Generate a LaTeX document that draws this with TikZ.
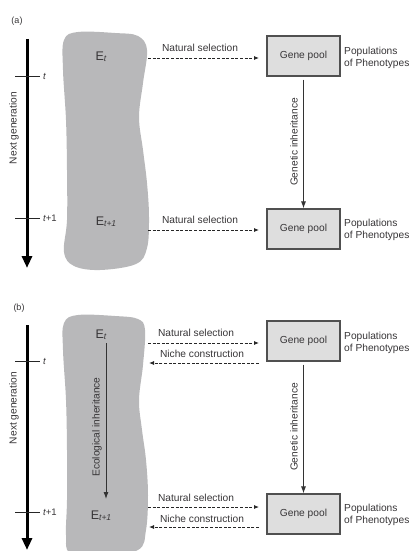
\documentclass[tikz,border=0pt]{standalone}
\usepackage{fontspec}
\setmainfont{Liberation Sans}
\usetikzlibrary{arrows.meta}
\definecolor{txt}{RGB}{55,53,55}
\definecolor{blobfill}{RGB}{184,184,186}
\definecolor{boxfill}{RGB}{222,222,222}
\definecolor{boxline}{RGB}{80,80,80}
\tikzset{
  lbl/.style={font=\fontsize{10.2}{12}\selectfont, text=txt, inner sep=0pt},
  rotlbl/.style={lbl, rotate=90},
  genebox/.style={draw=boxline, line width=1.1pt, fill=boxfill, minimum width=73pt, minimum height=40pt, inner sep=0pt, font=\fontsize{10.2}{12}\selectfont, text=txt},
  poplbl/.style={lbl, anchor=west, align=left, font=\fontsize{10.2}{11.5}\selectfont},
  envlbl/.style={font=\fontsize{12.5}{14}\selectfont, text=txt, inner sep=0pt},
  panellbl/.style={font=\fontsize{9}{11}\selectfont, text=txt, inner sep=0pt},
  ticklbl/.style={font=\fontsize{9.5}{10}\selectfont\itshape, text=txt, anchor=west, inner sep=0pt},
  dasharrow/.style={draw=black!85, dashed, dash pattern=on 3pt off 1.6pt, line width=0.8pt, -{Latex[length=5pt,width=4pt]}},
  solidarrow/.style={draw=black!80, line width=0.9pt, -{Latex[length=7pt,width=5pt]}},
  timearrow/.style={draw=black, line width=3pt, -{Triangle[length=12pt,width=10pt]}},
  tickline/.style={draw=black!85, line width=1pt},
  blob/.style={fill=blobfill, draw=none}
}
\newcommand{\Esub}[1]{E{\fontsize{8.5}{9}\selectfont\itshape\raisebox{-1.2pt}{#1}}}
\begin{document}
\begin{tikzpicture}[x=1pt,y=-1pt]
\useasboundingbox (0,0) rectangle (414,551);
% ---------- panel (a) ----------
\node[panellbl] (pa) at (17,21) {(a)};
\path[blob] plot[smooth cycle, tension=0.6] coordinates {
 (64,40) (78,32) (115,33) (138,36) (147,50) (143,83) (139,117) (143,150)
 (147,183) (149,217) (147,248) (136,264) (100,270) (74,266) (64,252)
 (67,220) (67,170) (66,120) (63,70)};
\node[envlbl] (ea1) at (101,57) {\Esub{t}};
\node[envlbl] (ea2) at (106,222) {\Esub{t+1}};
% time axis
\coordinate (ta1) at (27,39);
\coordinate (ta2) at (27,268);
\draw[timearrow] (ta1) -- (ta2);
\coordinate (tka1) at (15,76); \coordinate (tka2) at (40,76);
\draw[tickline] (tka1) -- (tka2);
\node[ticklbl] (tla1) at (43,76) {t};
\coordinate (tkb1) at (15,218); \coordinate (tkb2) at (40,218);
\draw[tickline] (tkb1) -- (tkb2);
\node[ticklbl] (tlb1) at (43,218) {t\upshape+1};
\node[rotlbl] (nga) at (14,128) {Next generation};
% gene pools
\node[genebox] (gpa1) at (303.5,56) {Gene pool};
\node[genebox] (gpa2) at (303.5,229) {Gene pool};
\node[poplbl] (ppa1) at (344,58) {Populations\\of Phenotypes};
\node[poplbl] (ppa2) at (344,230) {Populations\\of Phenotypes};
\draw[solidarrow, shorten <=3pt] (gpa1.south) -- (gpa2.north);
\node[rotlbl] (gia) at (294,142) {Genetic inheritance};
% natural selection
\node[lbl] (nsa1) at (200,48) {Natural selection};
\coordinate (nsa1s) at (148,58); \coordinate (nsa1e) at (259,58);
\draw[dasharrow] (nsa1s) -- (nsa1e);
\node[lbl] (nsa2) at (200,220) {Natural selection};
\coordinate (nsa2s) at (148,230); \coordinate (nsa2e) at (259,230);
\draw[dasharrow] (nsa2s) -- (nsa2e);
% ---------- panel (b) ----------
\node[panellbl] (pb) at (19,308) {(b)};
\path[blob] plot[smooth cycle, tension=0.6] coordinates {
 (64,323) (78,315) (115,316) (138,319) (145,330) (143,365) (139,400) (142,430)
 (146,460) (148,495) (146,530) (138,550) (100,556) (70,553) (66,535)
 (67,500) (67,450) (66,400) (63,350)};
\node[envlbl] (eb1) at (101,335) {\Esub{t}};
\node[envlbl] (eb2) at (101,516) {\Esub{t+1}};
\coordinate (eib1) at (106,343);
\coordinate (eib2) at (106,499);
\draw[solidarrow] (eib1) -- (eib2);
\node[rotlbl] (eil) at (97,427) {Ecological inheritance};
% time axis
\coordinate (tb1) at (27,325);
\coordinate (tb2) at (27,550);
\draw[timearrow] (tb1) -- (tb2);
\coordinate (tkc1) at (15,361); \coordinate (tkc2) at (40,361);
\draw[tickline] (tkc1) -- (tkc2);
\node[ticklbl] (tlc1) at (43,361) {t};
\coordinate (tkd1) at (15,512); \coordinate (tkd2) at (40,512);
\draw[tickline] (tkd1) -- (tkd2);
\node[ticklbl] (tld1) at (43,512) {t\upshape+1};
\node[rotlbl] (ngb) at (14,408) {Next generation};
% gene pools
\node[genebox] (gpb1) at (303.5,341) {Gene pool};
\node[genebox] (gpb2) at (303.5,514) {Gene pool};
\node[poplbl] (ppb1) at (344,343) {Populations\\of Phenotypes};
\node[poplbl] (ppb2) at (344,515) {Populations\\of Phenotypes};
\draw[solidarrow, shorten <=3pt] (gpb1.south) -- (gpb2.north);
\node[rotlbl] (gib) at (294,427) {Genetic inheritance};
% natural selection / niche construction
\node[lbl] (nsb1) at (196,333) {Natural selection};
\coordinate (nsb1s) at (148,343); \coordinate (nsb1e) at (259,343);
\draw[dasharrow] (nsb1s) -- (nsb1e);
\node[lbl] (ncb1) at (202,354) {Niche construction};
\coordinate (ncb1s) at (259,363); \coordinate (ncb1e) at (149,363);
\draw[dasharrow] (ncb1s) -- (ncb1e);
\node[lbl] (nsb2) at (196,498) {Natural selection};
\coordinate (nsb2s) at (148,507); \coordinate (nsb2e) at (259,507);
\draw[dasharrow] (nsb2s) -- (nsb2e);
\node[lbl] (ncb2) at (202,519) {Niche construction};
\coordinate (ncb2s) at (259,527); \coordinate (ncb2e) at (149,527);
\draw[dasharrow] (ncb2s) -- (ncb2e);
\end{tikzpicture}
\end{document}
